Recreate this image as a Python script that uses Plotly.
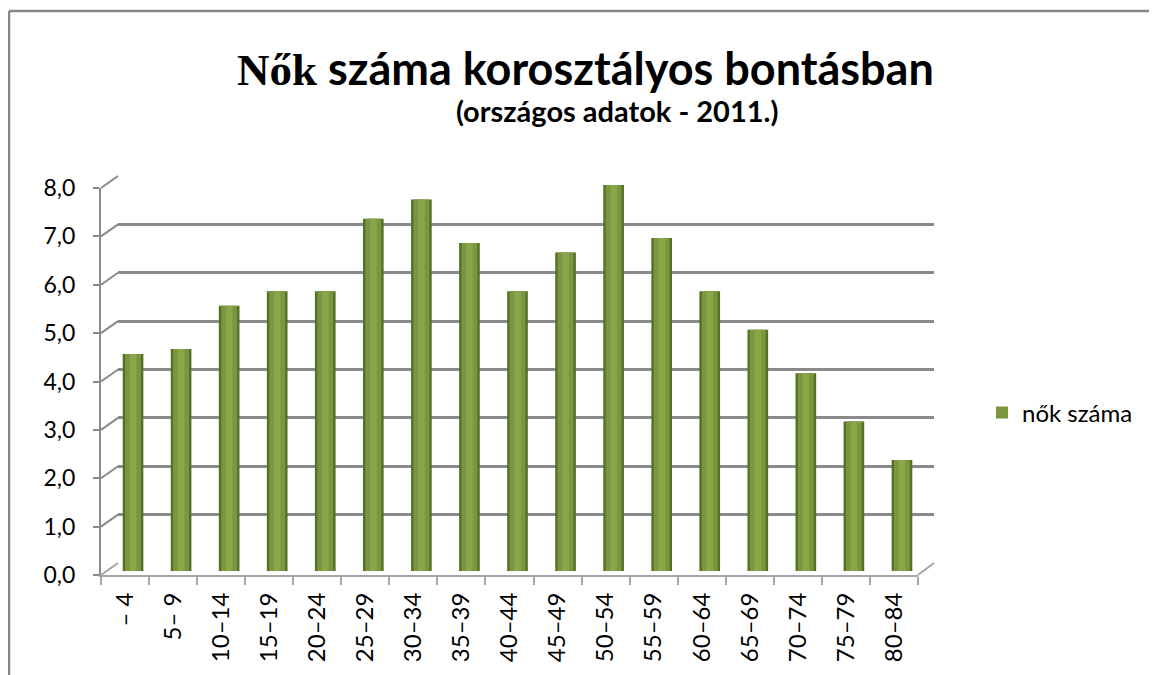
import plotly.graph_objects as go

# ==========================================================
# DATA
# ==========================================================

age_groups = ["– 4", "5– 9", "10–14", "15–19", "20–24", "25–29", "30–34",
              "35–39", "40–44", "45–49", "50–54", "55–59", "60–64",
              "65–69", "70–74", "75–79", "80–84"]
women = [4.5, 4.6, 5.5, 5.8, 5.8, 7.3, 7.7, 6.8, 5.8, 6.6, 8.0, 6.9,
         5.8, 5.0, 4.1, 3.1, 2.3]
y_ticks = [0, 1, 2, 3, 4, 5, 6, 7, 8]
series_name = "nők száma"

# ==========================================================
# LAYOUT HELPERS (page pixel -> paper)
# ==========================================================

W, H = 1157, 675
OFF = 8          # page body margin
T_M = B_M = 16   # fixed top/bottom margins
FONT = "Lato, 'Open Sans', sans-serif"
GRID = "#8a8a8a"
FLOOR = "#a6a6a6"


def px_x(p):
    return (p - OFF) / W


def px_y(p):
    return (H - B_M - (p - OFF)) / (H - T_M - B_M)


# back wall, front axes, bar plane (pixel boxes in the page)
BACK = dict(x0=118, x1=934, y0=563, y1=176)
FRONT = dict(x0=101, x1=918, y0=575, y1=188)
BARS = dict(x0=109, x1=926, y0=571, y1=185)
Y_MAX = 8

fig = go.Figure()

# invisible helper traces so every subplot is drawn
for xa, ya in [("x", "y"), ("x2", "y2")]:
    fig.add_trace(go.Scatter(
        x=age_groups, y=[None] * len(age_groups), xaxis=xa, yaxis=ya,
        mode="markers", showlegend=False, hoverinfo="skip"
    ))

# cylinder look: dark shell, main body, highlight
fig.add_trace(go.Bar(
    x=age_groups, y=women, xaxis="x3", yaxis="y3", width=0.43,
    marker=dict(color="#56702a", line=dict(width=0)),
    showlegend=False, hoverinfo="skip"
))
fig.add_trace(go.Bar(
    x=age_groups, y=women, xaxis="x3", yaxis="y3", width=0.33,
    name=series_name,
    marker=dict(color="#7a963e", line=dict(width=0)),
))
fig.add_trace(go.Bar(
    x=age_groups, y=women, xaxis="x3", yaxis="y3", width=0.14,
    marker=dict(color="#88a64a", line=dict(width=0)),
    showlegend=False, hoverinfo="skip"
))

# ==========================================================
# DECORATION SHAPES (3D frame)
# ==========================================================

shapes = []
# slanted connectors from the front axis to the back wall
for v in y_ticks:
    fy = FRONT["y0"] + (FRONT["y1"] - FRONT["y0"]) * v / Y_MAX
    by = BACK["y0"] + (BACK["y1"] - BACK["y0"]) * v / Y_MAX
    shapes.append(dict(
        type="line", xref="paper", yref="paper",
        x0=px_x(FRONT["x0"]), y0=px_y(fy), x1=px_x(BACK["x0"]), y1=px_y(by),
        line=dict(color=GRID if v else FLOOR, width=2)
    ))
# right floor edge
shapes.append(dict(
    type="line", xref="paper", yref="paper",
    x0=px_x(FRONT["x1"]), y0=px_y(FRONT["y0"]),
    x1=px_x(BACK["x1"]), y1=px_y(BACK["y0"]),
    line=dict(color=FLOOR, width=2)
))
# chart border (left + top)
shapes.append(dict(type="line", xref="paper", yref="paper",
                   x0=px_x(9), y0=px_y(11), x1=px_x(9), y1=px_y(700),
                   line=dict(color="#868686", width=2.5)))
shapes.append(dict(type="line", xref="paper", yref="paper",
                   x0=px_x(9), y0=px_y(11), x1=px_x(1170), y1=px_y(11),
                   line=dict(color="#868686", width=2.5)))

fig.update_layout(
    width=W, height=H,
    margin=dict(l=0, r=0, t=T_M, b=B_M),
    paper_bgcolor="white",
    plot_bgcolor="rgba(0,0,0,0)",
    barmode="overlay",
    separators=", ",
    font=dict(family=FONT, color="black"),
    shapes=shapes,
    # back wall gridlines
    xaxis=dict(
        domain=[px_x(BACK["x0"]), px_x(BACK["x1"])], anchor="y",
        type="category", range=[-0.5, len(age_groups) - 0.5],
        showgrid=False, showticklabels=False, zeroline=False, showline=False
    ),
    yaxis=dict(
        domain=[px_y(BACK["y0"]), px_y(BACK["y1"])], anchor="x",
        range=[0, Y_MAX], tickvals=y_ticks, showgrid=True,
        gridcolor=GRID, gridwidth=3, showticklabels=False,
        zeroline=False, showline=False
    ),
    # front axes with labels
    xaxis2=dict(
        domain=[px_x(FRONT["x0"]), px_x(FRONT["x1"])], anchor="y2",
        type="category", range=[-0.5, len(age_groups) - 0.5],
        showgrid=False, zeroline=False, showline=True,
        linecolor=FLOOR, linewidth=2,
        ticks="outside", tickson="boundaries", ticklen=8,
        tickcolor=FLOOR, tickwidth=2,
        tickangle=-90, tickfont=dict(size=24), ticklabelstandoff=6
    ),
    yaxis2=dict(
        domain=[px_y(FRONT["y0"]), px_y(FRONT["y1"])], anchor="x2",
        range=[0, Y_MAX], tickvals=y_ticks, tickformat=".1f",
        showgrid=False, zeroline=False, showline=True,
        linecolor=GRID, linewidth=2,
        ticks="outside", ticklen=6, tickcolor=GRID, tickwidth=2,
        tickfont=dict(size=23), ticklabelstandoff=13
    ),
    # bar plane
    xaxis3=dict(
        domain=[px_x(BARS["x0"]), px_x(BARS["x1"])], anchor="y3",
        type="category", range=[-0.5, len(age_groups) - 0.5], visible=False
    ),
    yaxis3=dict(
        domain=[px_y(BARS["y0"]), px_y(BARS["y1"])], anchor="x3",
        range=[0, Y_MAX], visible=False
    ),
    legend=dict(
        x=px_x(982), y=px_y(413), xanchor="left", yanchor="middle",
        font=dict(size=24), bgcolor="rgba(0,0,0,0)"
    ),
    annotations=[
        dict(
            text="<b><span style='font-family:Liberation Serif'>Nők</span>"
                 " száma korosztályos bontásban</b>",
            x=px_x(585), y=px_y(68), xref="paper", yref="paper",
            xanchor="center", yanchor="middle",
            showarrow=False, font=dict(size=45)
        ),
        dict(
            text="<b>(országos adatok - 2011.)</b>",
            x=px_x(617), y=px_y(110), xref="paper", yref="paper",
            xanchor="center", yanchor="middle",
            showarrow=False, font=dict(size=29)
        ),
    ],
)

fig.write_html("out.html")
